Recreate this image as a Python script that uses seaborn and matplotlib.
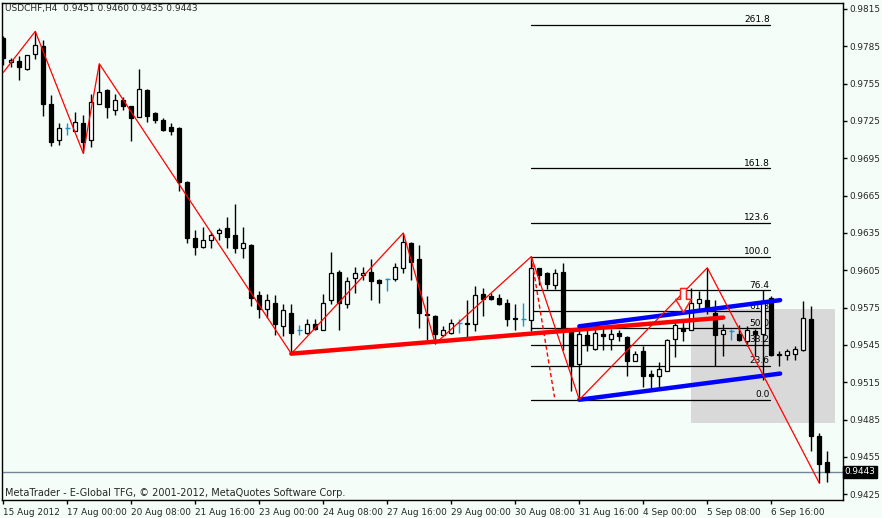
import matplotlib
matplotlib.use('Agg')
import matplotlib.pyplot as plt
from matplotlib.patches import Rectangle
from matplotlib.path import Path
import numpy as np
import pandas as pd
import seaborn as sns

# USDCHF H4 candles, 15 Aug - 7 Sep 2012
opens = [0.9792, 0.9772, 0.9773, 0.9767, 0.9779, 0.9785, 0.9739, 0.9710, 0.9719, 0.9717,
         0.9723, 0.9710, 0.9739, 0.9750, 0.9734, 0.9742, 0.9737, 0.9728, 0.9750, 0.9731,
         0.9726, 0.9720, 0.9719, 0.9676, 0.9631, 0.9624, 0.9629, 0.9635, 0.9639, 0.9633,
         0.9623, 0.9625, 0.9585, 0.9574, 0.9579, 0.9560, 0.9571, 0.9557, 0.9555, 0.9562,
         0.9557, 0.9581, 0.9604, 0.9578, 0.9599, 0.9601, 0.9604, 0.9597, 0.9598, 0.9598,
         0.9607, 0.9627, 0.9614, 0.9570, 0.9568, 0.9553, 0.9555, 0.9563, 0.9563, 0.9562,
         0.9586, 0.9584, 0.9583, 0.9579, 0.9567, 0.9566, 0.9565, 0.9607, 0.9603, 0.9593,
         0.9604, 0.9557, 0.9530, 0.9553, 0.9542, 0.9554, 0.9550, 0.9555, 0.9551, 0.9532,
         0.9540, 0.9522, 0.9520, 0.9524, 0.9550, 0.9559, 0.9557, 0.9579, 0.9581, 0.9571,
         0.9554, 0.9556, 0.9554, 0.9548, 0.9556, 0.9554, 0.9583, 0.9538, 0.9537, 0.9538,
         0.9541, 0.9566, 0.9472, 0.9451]
highs = [0.9793, 0.9776, 0.9777, 0.9778, 0.9797, 0.9790, 0.9746, 0.9723, 0.9723, 0.9732,
         0.9730, 0.9747, 0.9771, 0.9751, 0.9747, 0.9744, 0.9737, 0.9767, 0.9751, 0.9732,
         0.9727, 0.9723, 0.9720, 0.9677, 0.9637, 0.9640, 0.9636, 0.9639, 0.9648, 0.9658,
         0.9640, 0.9626, 0.9588, 0.9586, 0.9585, 0.9578, 0.9578, 0.9561, 0.9566, 0.9566,
         0.9586, 0.9620, 0.9605, 0.9600, 0.9608, 0.9608, 0.9614, 0.9598, 0.9599, 0.9611,
         0.9635, 0.9628, 0.9625, 0.9584, 0.9569, 0.9560, 0.9566, 0.9566, 0.9581, 0.9592,
         0.9591, 0.9587, 0.9586, 0.9582, 0.9578, 0.9579, 0.9616, 0.9607, 0.9604, 0.9606,
         0.9611, 0.9559, 0.9561, 0.9557, 0.9559, 0.9559, 0.9558, 0.9557, 0.9552, 0.9540,
         0.9544, 0.9525, 0.9531, 0.9550, 0.9565, 0.9565, 0.9591, 0.9588, 0.9607, 0.9581,
         0.9562, 0.9558, 0.9561, 0.9560, 0.9558, 0.9589, 0.9584, 0.9540, 0.9542, 0.9544,
         0.9580, 0.9576, 0.9474, 0.9460]
lows = [0.9770, 0.9768, 0.9758, 0.9766, 0.9775, 0.9729, 0.9705, 0.9706, 0.9714, 0.9717,
        0.9699, 0.9704, 0.9739, 0.9727, 0.9730, 0.9734, 0.9709, 0.9728, 0.9724, 0.9723,
        0.9717, 0.9714, 0.9669, 0.9627, 0.9617, 0.9623, 0.9623, 0.9629, 0.9623, 0.9619,
        0.9615, 0.9576, 0.9567, 0.9567, 0.9553, 0.9552, 0.9538, 0.9553, 0.9554, 0.9557,
        0.9557, 0.9578, 0.9557, 0.9575, 0.9587, 0.9597, 0.9581, 0.9579, 0.9588, 0.9596,
        0.9603, 0.9597, 0.9559, 0.9549, 0.9546, 0.9552, 0.9554, 0.9555, 0.9550, 0.9556,
        0.9568, 0.9581, 0.9577, 0.9560, 0.9557, 0.9560, 0.9556, 0.9593, 0.9590, 0.9590,
        0.9541, 0.9508, 0.9501, 0.9540, 0.9541, 0.9541, 0.9541, 0.9548, 0.9520, 0.9532,
        0.9511, 0.9508, 0.9511, 0.9524, 0.9535, 0.9548, 0.9557, 0.9574, 0.9570, 0.9528,
        0.9536, 0.9549, 0.9548, 0.9544, 0.9536, 0.9517, 0.9536, 0.9528, 0.9533, 0.9533,
        0.9540, 0.9460, 0.9434, 0.9435]
closes = [0.9776, 0.9774, 0.9768, 0.9778, 0.9786, 0.9739, 0.9708, 0.9719, 0.9719, 0.9724,
          0.9708, 0.9740, 0.9748, 0.9736, 0.9742, 0.9737, 0.9727, 0.9751, 0.9729, 0.9726,
          0.9718, 0.9717, 0.9676, 0.9631, 0.9624, 0.9629, 0.9633, 0.9637, 0.9632, 0.9623,
          0.9627, 0.9583, 0.9574, 0.9581, 0.9562, 0.9573, 0.9555, 0.9557, 0.9562, 0.9558,
          0.9579, 0.9603, 0.9579, 0.9596, 0.9603, 0.9603, 0.9596, 0.9595, 0.9598, 0.9608,
          0.9628, 0.9612, 0.9571, 0.9569, 0.9554, 0.9557, 0.9563, 0.9563, 0.9562, 0.9585,
          0.9582, 0.9582, 0.9578, 0.9566, 0.9566, 0.9566, 0.9607, 0.9601, 0.9594, 0.9603,
          0.9557, 0.9528, 0.9554, 0.9546, 0.9555, 0.9552, 0.9554, 0.9552, 0.9532, 0.9538,
          0.9520, 0.9520, 0.9526, 0.9549, 0.9561, 0.9556, 0.9579, 0.9582, 0.9573, 0.9553,
          0.9557, 0.9556, 0.9549, 0.9557, 0.9554, 0.9580, 0.9537, 0.9537, 0.9540, 0.9542,
          0.9567, 0.9472, 0.9449, 0.9443]

date_labels = ['15 Aug 2012', '17 Aug 00:00', '20 Aug 08:00', '21 Aug 16:00', '23 Aug 00:00',
               '24 Aug 08:00', '27 Aug 16:00', '29 Aug 00:00', '30 Aug 08:00', '31 Aug 16:00',
               '4 Sep 00:00', '5 Sep 08:00', '6 Sep 16:00']
date_ticks = [0, 8, 16, 24, 32, 40, 48, 56, 64, 72, 80, 88, 96]
price_ticks = [0.9425, 0.9455, 0.9485, 0.9515, 0.9545, 0.9575, 0.9605,
               0.9635, 0.9665, 0.9695, 0.9725, 0.9755, 0.9785, 0.9815]

# zigzag turning points (bar index, price)
zz_bar = [0, 4, 10, 12, 36, 50, 54, 66, 72, 88, 102]
zz_price = [0.9764, 0.9797, 0.9699, 0.9771, 0.9538, 0.9635, 0.9546, 0.9616, 0.9501, 0.9607, 0.9434]

# trend lines
red_bar = [36, 90]
red_price = [0.9538, 0.9567]
chan_bar = [72, 97.1]
chan_upper = [0.9560, 0.9581]
chan_lower = [0.9501, 0.9522]
fib_diag_bar = [66, 68.9]
fib_diag_price = [0.9616, 0.9503]

# fibonacci retracement
fib_low, fib_high = 0.9501, 0.9616
fib_levels = [0.0, 23.6, 38.2, 50.0, 61.8, 76.4, 100.0, 123.6, 161.8, 261.8]
fib_bar = [66, 95.8]

# shaded box and sell arrow
box_bar = [86, 104]
box_price = [0.9482, 0.9574]
arrow_bar = [85]
arrow_price = [0.95815]

last_price = 0.9443

BG = '#f4fdf7'
DOJI = '#1b8fd2'

sns.set_style('ticks', {'axes.facecolor': BG, 'figure.facecolor': BG})
plt.rcParams['font.family'] = ['DejaVu Sans']

df = pd.DataFrame({'open': opens, 'high': highs, 'low': lows, 'close': closes})
df['bar'] = np.arange(len(df))
df['doji'] = df['open'] == df['close']
df['bull'] = df['close'] > df['open']

fig = plt.figure(figsize=(8.82, 5.18), dpi=100)
ax = fig.add_axes([2 / 882, 18 / 518, 841 / 882, 497 / 518])
ax.set_facecolor(BG)

ax.add_patch(Rectangle((box_bar[0], box_price[0]), box_bar[1] - box_bar[0],
                       box_price[1] - box_price[0], facecolor='#d9d9d9',
                       edgecolor='none', zorder=0.5))

ax.axhline(last_price, color='#73869a', lw=1, zorder=0.8)

# fibonacci levels
for lv in fib_levels:
    p = fib_low + (fib_high - fib_low) * lv / 100
    ax.plot(fib_bar, [p, p], color='black', lw=0.9, zorder=1)
    ax.text(fib_bar[1], p + 0.00005, f'{lv:.1f}', ha='right', va='bottom',
            fontsize=6.5, color='black', zorder=1)

# candles
wick_col = np.where(df['doji'], DOJI, 'black')
ax.vlines(df['bar'], df['low'], df['high'], colors=wick_col, lw=1, zorder=3)
body = df[~df['doji']]
ax.bar(body['bar'], (body['close'] - body['open']).abs(),
       bottom=body[['open', 'close']].min(axis=1), width=0.5,
       color=np.where(body['bull'], 'white', 'black'), edgecolor='black',
       linewidth=0.9, zorder=4)
dj = df[df['doji']]
ax.hlines(dj['close'], dj['bar'] - 0.3, dj['bar'] + 0.3, colors=DOJI, lw=1, zorder=4)

# overlays
sns.lineplot(x=red_bar, y=red_price, color='#ff0000', lw=3.2, ax=ax, zorder=5)
sns.lineplot(x=chan_bar, y=chan_upper, color='#0000ff', lw=3.2, ax=ax, zorder=5)
sns.lineplot(x=chan_bar, y=chan_lower, color='#0000ff', lw=3.2, ax=ax, zorder=5)
sns.lineplot(x=zz_bar, y=zz_price, color='#ff0000', lw=0.9, sort=False,
             estimator=None, ax=ax, zorder=6)
ax.plot(fib_diag_bar, fib_diag_price, color='#ff0000', lw=1, ls=(0, (3, 2)), zorder=6)

arrow = Path([(-0.25, 1), (0.25, 1), (0.25, 0.1), (0.65, 0.1), (0, -1),
              (-0.65, 0.1), (-0.25, 0.1), (-0.25, 1)])
ax.scatter(arrow_bar, arrow_price, marker=arrow, s=300,
           facecolors=BG, edgecolors='#ff2020', linewidths=1.1, zorder=7)

ax.set_xlim(-0.16, 104.96)
ax.set_ylim(0.94204, 0.98198)

ax.yaxis.tick_right()
ax.set_yticks(price_ticks)
ax.set_yticklabels([f'{p:.4f}' for p in price_ticks])
ax.set_xticks(date_ticks)
ax.set_xticklabels(date_labels, ha='left')
ax.tick_params(axis='both', labelsize=6.4, length=3, width=1, color='black', pad=1.5)
ax.tick_params(axis='x', pad=3)
for s in ax.spines.values():
    s.set_visible(True)
    s.set_color('black')
    s.set_linewidth(1)
ax.set_xlabel('')
ax.set_ylabel('')

ax.text(1.002, last_price, f'{last_price:.4f}', transform=ax.get_yaxis_transform(),
        fontsize=6.4, color='white', va='center', ha='left',
        bbox=dict(boxstyle='square,pad=0.2', facecolor='black', edgecolor='black'))

fig.text(5 / 882, 1 - 8 / 518, 'USDCHF,H4  0.9451 0.9460 0.9435 0.9443',
         fontsize=6.5, va='center', ha='left')
fig.text(5 / 882, 1 - 493 / 518,
         'MetaTrader - E-Global TFG, © 2001-2012, MetaQuotes Software Corp.',
         fontsize=7, va='center', ha='left')

fig.savefig('out.png', dpi=100, facecolor=BG)
